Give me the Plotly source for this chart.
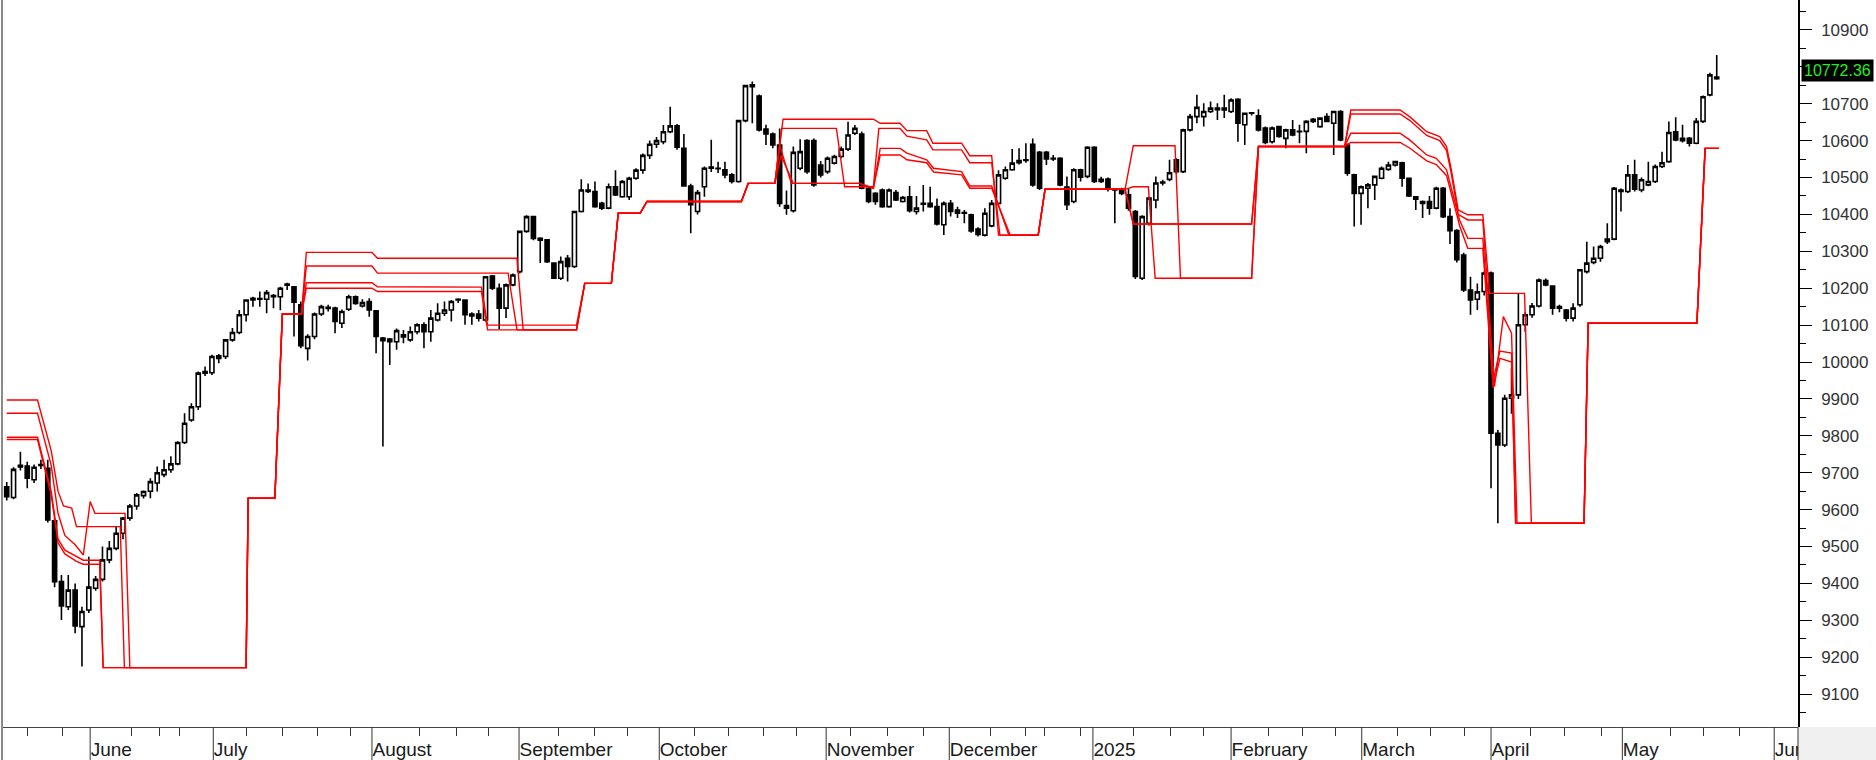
import plotly.graph_objects as go

# ---------------- data ----------------
open_ = [
    9662, 9633, 9716, 9718, 9681, 9720, 9712, 9570, 9405, 9337,
    9382, 9283, 9328, 9387, 9411, 9464, 9495, 9536, 9577, 9610,
    9638, 9650, 9672, 9695, 9708, 9724, 9782, 9843, 9879, 9970,
    9971, 10010, 10015, 10060, 10080, 10128, 10168, 10172, 10170, 10180,
    10177, 10208, 10204, 10155, 10037, 10069, 10130, 10148, 10146, 10105,
    10143, 10177, 10152, 10164, 10139, 10058, 10062, 10055, 10068, 10060,
    10082, 10101, 10082, 10114, 10132, 10141, 10168, 10168, 10125, 10130,
    10114, 10233, 10200, 10146, 10209, 10245, 10354, 10394, 10335, 10331,
    10268, 10227, 10281, 10259, 10408, 10466, 10462, 10430, 10417, 10475,
    10448, 10448, 10498, 10520, 10560, 10590, 10597, 10624, 10640, 10579,
    10477, 10408, 10475, 10525, 10525, 10521, 10507, 10489, 10654, 10746,
    10721, 10631, 10618, 10588, 10417, 10410, 10525, 10600, 10600, 10534,
    10516, 10539, 10557, 10577, 10620, 10618, 10471, 10457, 10466, 10421,
    10459, 10435, 10448, 10408, 10428, 10430, 10421, 10372, 10430, 10412,
    10403, 10399, 10360, 10344, 10369, 10430, 10498, 10521, 10540, 10546,
    10590, 10568, 10568, 10550, 10552, 10474, 10435, 10521, 10503, 10582,
    10495, 10496, 10468, 10468, 10453, 10408, 10227, 10376, 10439, 10485,
    10495, 10548, 10516, 10629, 10665, 10665, 10679, 10688, 10683, 10679,
    10712, 10643, 10674, 10667, 10634, 10597, 10638, 10606, 10629, 10624,
    10625, 10652, 10638, 10665, 10647, 10679, 10588, 10507, 10457, 10471,
    10480, 10498, 10522, 10534, 10540, 10498, 10448, 10435, 10435, 10417,
    10471, 10394, 10356, 10290, 10195, 10170, 10191, 10241, 9807, 9775,
    9902, 9911, 10101, 10128, 10152, 10221, 10206, 10150, 10141, 10119,
    10155, 10245, 10270, 10281, 10326, 10333, 10462, 10462, 10507, 10466,
    10480, 10489, 10530, 10543, 10624, 10600, 10606, 10593, 10652, 10724,
    10768,
]
high = [
    9675, 9715, 9757, 9730, 9722, 9735, 9735, 9575, 9423, 9423,
    9400, 9337, 9472, 9420, 9500, 9515, 9555, 9580, 9615, 9645,
    9652, 9685, 9717, 9735, 9745, 9785, 9861, 9888, 9974, 9988,
    10020, 10022, 10062, 10092, 10141, 10170, 10177, 10191, 10195, 10184,
    10204, 10215, 10206, 10164, 10075, 10134, 10155, 10155, 10150, 10142,
    10182, 10180, 10170, 10173, 10141, 10068, 10065, 10091, 10087, 10096,
    10105, 10108, 10141, 10159, 10164, 10168, 10173, 10170, 10135, 10141,
    10233, 10236, 10213, 10213, 10240, 10356, 10398, 10396, 10338, 10333,
    10270, 10286, 10290, 10410, 10495, 10484, 10489, 10434, 10484, 10520,
    10493, 10502, 10525, 10565, 10600, 10610, 10642, 10692, 10645, 10618,
    10483, 10466, 10530, 10602, 10543, 10543, 10512, 10656, 10751, 10760,
    10725, 10643, 10622, 10633, 10465, 10584, 10604, 10604, 10606, 10545,
    10557, 10562, 10584, 10651, 10642, 10625, 10475, 10460, 10470, 10470,
    10466, 10450, 10477, 10450, 10480, 10475, 10443, 10435, 10439, 10421,
    10412, 10402, 10365, 10417, 10439, 10520, 10530, 10577, 10579, 10593,
    10606, 10572, 10572, 10561, 10555, 10503, 10525, 10524, 10585, 10585,
    10502, 10500, 10471, 10472, 10471, 10412, 10398, 10448, 10503, 10494,
    10548, 10552, 10632, 10672, 10724, 10701, 10706, 10701, 10724, 10715,
    10715, 10676, 10677, 10685, 10638, 10638, 10640, 10632, 10656, 10643,
    10655, 10661, 10663, 10674, 10680, 10682, 10592, 10510, 10478, 10485,
    10505, 10530, 10543, 10545, 10543, 10500, 10450, 10438, 10450, 10475,
    10474, 10417, 10360, 10296, 10231, 10213, 10245, 10245, 9816, 9911,
    9983, 10186, 10135, 10160, 10226, 10226, 10206, 10155, 10144, 10159,
    10252, 10326, 10313, 10318, 10376, 10474, 10470, 10534, 10548, 10500,
    10543, 10535, 10570, 10652, 10663, 10643, 10610, 10661, 10722, 10784,
    10832,
]
low = [
    9625, 9628, 9706, 9658, 9672, 9710, 9565, 9390, 9301, 9328,
    9265, 9175, 9320, 9380, 9405, 9455, 9490, 9520, 9570, 9600,
    9630, 9631, 9649, 9688, 9700, 9720, 9778, 9838, 9870, 9962,
    9965, 9997, 10008, 10055, 10075, 10110, 10150, 10150, 10132, 10146,
    10140, 10195, 10069, 10037, 10004, 10062, 10125, 10137, 10078, 10092,
    10138, 10155, 10148, 10123, 10024, 9771, 9992, 10033, 10051, 10055,
    10075, 10037, 10055, 10110, 10125, 10110, 10160, 10101, 10101, 10110,
    10110, 10195, 10089, 10119, 10205, 10240, 10350, 10330, 10268, 10268,
    10225, 10222, 10218, 10255, 10405, 10458, 10418, 10412, 10414, 10450,
    10445, 10439, 10494, 10510, 10550, 10580, 10590, 10620, 10575, 10475,
    10349, 10400, 10448, 10515, 10512, 10498, 10484, 10486, 10650, 10647,
    10625, 10588, 10579, 10421, 10399, 10405, 10520, 10510, 10475, 10500,
    10510, 10535, 10552, 10572, 10615, 10468, 10430, 10426, 10418, 10418,
    10436, 10432, 10405, 10400, 10408, 10418, 10370, 10344, 10394, 10390,
    10376, 10350, 10340, 10340, 10365, 10425, 10494, 10518, 10535, 10540,
    10475, 10466, 10534, 10545, 10476, 10412, 10430, 10489, 10498, 10485,
    10485, 10462, 10376, 10452, 10410, 10225, 10222, 10370, 10417, 10478,
    10490, 10510, 10512, 10625, 10647, 10638, 10675, 10656, 10661, 10675,
    10597, 10588, 10668, 10625, 10590, 10592, 10608, 10579, 10612, 10593,
    10566, 10648, 10635, 10650, 10561, 10598, 10505, 10367, 10372, 10417,
    10439, 10495, 10518, 10530, 10475, 10447, 10412, 10390, 10399, 10414,
    10390, 10320, 10270, 10190, 10128, 10141, 10180, 9658, 9563, 9770,
    9860, 9900, 10082, 10120, 10148, 10205, 10128, 10135, 10110, 10110,
    10150, 10240, 10265, 10272, 10320, 10330, 10408, 10458, 10462, 10460,
    10476, 10485, 10526, 10540, 10598, 10595, 10584, 10590, 10648, 10720,
    10765,
]
close = [
    9635, 9709, 9720, 9685, 9715, 9722, 9572, 9405, 9339, 9382,
    9285, 9324, 9390, 9411, 9464, 9495, 9536, 9577, 9610, 9640,
    9649, 9676, 9700, 9708, 9724, 9782, 9834, 9879, 9970, 9974,
    10015, 10017, 10060, 10080, 10128, 10168, 10173, 10170, 10188, 10177,
    10200, 10211, 10162, 10044, 10069, 10130, 10150, 10145, 10110, 10137,
    10177, 10159, 10161, 10141, 10069, 10065, 10055, 10085, 10074, 10082,
    10101, 10082, 10119, 10132, 10141, 10164, 10170, 10128, 10130, 10119,
    10231, 10200, 10146, 10209, 10236, 10354, 10394, 10335, 10330, 10272,
    10227, 10272, 10259, 10408, 10466, 10462, 10421, 10417, 10475, 10453,
    10489, 10498, 10520, 10560, 10590, 10600, 10624, 10640, 10582, 10477,
    10426, 10459, 10525, 10528, 10524, 10507, 10489, 10654, 10749, 10751,
    10629, 10618, 10588, 10430, 10424, 10568, 10570, 10516, 10480, 10507,
    10552, 10557, 10577, 10615, 10633, 10471, 10435, 10435, 10421, 10466,
    10439, 10446, 10410, 10417, 10430, 10421, 10374, 10430, 10408, 10403,
    10405, 10355, 10346, 10403, 10430, 10507, 10521, 10539, 10546, 10548,
    10480, 10471, 10550, 10552, 10480, 10426, 10521, 10501, 10582, 10489,
    10489, 10468, 10466, 10457, 10417, 10232, 10394, 10444, 10485, 10488,
    10513, 10516, 10629, 10665, 10690, 10679, 10688, 10684, 10688, 10710,
    10647, 10674, 10675, 10629, 10595, 10634, 10611, 10629, 10615, 10625,
    10652, 10658, 10661, 10652, 10679, 10602, 10512, 10457, 10475, 10480,
    10503, 10525, 10534, 10543, 10498, 10450, 10441, 10430, 10417, 10471,
    10394, 10356, 10277, 10195, 10168, 10190, 10241, 9807, 9775, 9902,
    9911, 10101, 10128, 10152, 10222, 10209, 10146, 10146, 10119, 10146,
    10250, 10268, 10281, 10313, 10333, 10471, 10466, 10507, 10468, 10494,
    10489, 10530, 10540, 10622, 10602, 10606, 10593, 10652, 10719, 10778,
    10772.36,
]
bar_index = list(range(len(close)))

# month boundaries (in bar units) and their labels
month_pos = [12.2, 30.2, 53.4, 74.9, 95.4, 119.8, 137.8, 158.8, 179.0, 198.1, 217.0, 236.2, 258.4]
month_names = ["June", "July", "August", "September", "October", "November", "December",
               "2025", "February", "March", "April", "May", "June"]
# weekly minor ticks (bar units)
week_pos = [3.0, 8.2, 18.2, 22.3, 25.2, 35.0, 40.3, 45.5, 50.3, 60.4, 65.7, 70.5, 80.6, 85.9,
            90.7, 100.6, 105.5, 110.7, 115.5, 123.4, 128.7, 134.0, 143.8, 149.0, 151.7, 157.0,
            164.8, 170.1, 174.9, 184.5, 189.4, 194.2, 203.4, 208.2, 213.1, 222.7, 227.8, 233.1,
            243.2, 248.0, 253.3]
price_ticks = [9100, 9200, 9300, 9400, 9500, 9600, 9700, 9800, 9900, 10000,
               10100, 10200, 10300, 10400, 10500, 10600, 10700, 10800, 10900]
# the 10800 label is hidden behind the last-price box in the reference
price_labels = ["9100", "9200", "9300", "9400", "9500", "9600", "9700", "9800", "9900", "10000",
                "10100", "10200", "10300", "10400", "10500", "10600", "10700", "", "10900"]

# red trailing-stop lines: vertices (bar, price)
stop_1 = [(0, 9897), (4.5, 9897), (6.5, 9760), (7.5, 9650), (8.3, 9610), (9.5, 9604), (10.2, 9554),
          (16.6, 9554), (17.2, 9172), (35.0, 9172), (35.3, 9631), (39.2, 9631), (40.3, 10130),
          (43.1, 10130), (43.8, 10297), (53.4, 10297), (54.2, 10281), (74.6, 10281), (75.5, 10087),
          (83.3, 10087), (84.5, 10213), (88.4, 10213), (89.4, 10403), (92.6, 10403), (93.6, 10435),
          (107.4, 10435), (108.4, 10484), (112.3, 10484), (113.5, 10658), (126.7, 10658),
          (127.7, 10647), (130.6, 10647), (131.6, 10627), (134.5, 10627), (135.4, 10593),
          (139.6, 10593), (140.8, 10559), (144.0, 10559), (145.0, 10344), (150.8, 10344),
          (151.8, 10468), (163.5, 10468), (164.7, 10586), (170.8, 10586), (171.6, 10227),
          (182.0, 10227), (183.0, 10584), (195.6, 10584), (196.5, 10683), (203.7, 10683),
          (205.1, 10665), (207.6, 10624), (209.5, 10611), (210.5, 10584), (211.2, 10521),
          (212.2, 10412), (213.6, 10399), (215.8, 10399), (216.8, 10186), (221.9, 10186),
          (222.9, 9563), (230.6, 9563), (231.2, 10105), (247.1, 10105), (248.3, 10579), (250.3, 10579)]
stop_2 = [(0, 9861), (4.5, 9861), (6.5, 9720), (7.5, 9590), (8.5, 9530), (10.0, 9505), (11.2, 9477),
          (12.2, 9622), (12.9, 9590), (17.3, 9590), (18.0, 9172), (35.0, 9172), (35.3, 9631),
          (39.2, 9631), (40.3, 10130), (43.1, 10130), (43.8, 10260), (53.4, 10260), (54.2, 10241),
          (73.3, 10241), (74.6, 10087), (83.3, 10087), (84.5, 10213), (88.4, 10213), (89.4, 10403),
          (92.6, 10403), (93.6, 10435), (107.4, 10435), (108.4, 10484), (112.3, 10484),
          (113.3, 10633), (121.3, 10633), (122.5, 10475), (126.7, 10475), (127.5, 10633),
          (130.6, 10633), (131.6, 10612), (134.5, 10602), (135.4, 10575), (139.6, 10575),
          (140.8, 10540), (144.0, 10540), (145.2, 10344), (150.8, 10344), (151.8, 10468),
          (163.5, 10468), (164.7, 10475), (166.9, 10475), (167.9, 10227), (182.0, 10227),
          (183.0, 10584), (195.6, 10584), (196.5, 10672), (203.7, 10672), (205.1, 10655),
          (207.6, 10614), (209.5, 10600), (210.5, 10573), (211.2, 10510), (212.2, 10400),
          (213.6, 10385), (215.8, 10385), (217.5, 9933), (218.8, 10123), (220.0, 10078),
          (220.8, 9563), (230.6, 9563), (231.2, 10105), (247.1, 10105), (248.3, 10579), (250.3, 10579)]
stop_3 = [(0, 9796), (4.5, 9796), (6.5, 9650), (7.5, 9520), (8.5, 9490), (10.2, 9473), (11.2, 9463),
          (13.6, 9463), (14.1, 9172), (35.0, 9172), (35.3, 9631), (39.2, 9631), (40.3, 10130),
          (43.1, 10130), (43.8, 10215), (53.4, 10215), (54.2, 10204), (69.4, 10203), (70.3, 10100),
          (83.3, 10100), (84.5, 10213), (88.4, 10213), (89.4, 10403), (92.6, 10403), (93.6, 10435),
          (107.4, 10435), (108.4, 10484), (112.3, 10484), (113.0, 10588), (114.7, 10484),
          (124.7, 10484), (126.7, 10471), (127.7, 10579), (130.6, 10579), (131.6, 10566),
          (134.5, 10548), (135.5, 10525), (139.6, 10516), (140.8, 10477), (144.0, 10477),
          (146.5, 10344), (150.8, 10344), (151.8, 10468), (163.5, 10468), (164.7, 10374),
          (182.0, 10374), (183.0, 10584), (195.6, 10584), (196.5, 10620), (203.7, 10620),
          (205.1, 10602), (207.6, 10561), (209.0, 10552), (210.5, 10521), (211.5, 10448),
          (212.4, 10385), (213.6, 10335), (215.8, 10335), (217.3, 9950), (218.3, 10030),
          (220.0, 10024), (220.6, 9563), (230.6, 9563), (231.2, 10105), (247.1, 10105),
          (248.3, 10579), (250.3, 10579)]
stop_4 = [(0, 9790), (4.5, 9790), (6.5, 9640), (7.5, 9510), (8.5, 9480), (10.2, 9460), (11.2, 9452),
          (13.6, 9452), (14.1, 9172), (35.0, 9172), (35.3, 9631), (39.2, 9631), (40.3, 10130),
          (43.1, 10130), (43.8, 10200), (53.4, 10200), (54.2, 10191), (69.4, 10191), (70.3, 10087),
          (83.3, 10087), (84.5, 10213), (88.4, 10213), (89.4, 10403), (92.6, 10403), (93.6, 10435),
          (107.4, 10435), (108.4, 10484), (112.3, 10484), (113.2, 10560), (115.0, 10484),
          (124.7, 10484), (126.7, 10471), (127.7, 10561), (130.6, 10561), (131.6, 10548),
          (134.5, 10540), (135.5, 10515), (139.6, 10507), (140.8, 10471), (144.0, 10471),
          (146.7, 10344), (150.8, 10344), (151.8, 10468), (163.5, 10468), (164.7, 10374),
          (182.0, 10374), (183.0, 10584), (195.6, 10584), (196.5, 10595), (203.7, 10595),
          (205.1, 10580), (207.6, 10545), (209.0, 10535), (210.5, 10505), (211.5, 10435),
          (212.4, 10370), (213.6, 10308), (215.8, 10308), (217.3, 9930), (218.3, 10010),
          (220.0, 10000), (220.6, 9563), (230.6, 9563), (231.2, 10105), (247.1, 10105),
          (248.3, 10579), (250.3, 10579)]

# ---------------- figure ----------------
W, H = 1876, 760
ML, MR, MT, MB = 2, 78, 0, 33
PW, PH = W - ML - MR, H - MT - MB
BAND = MB / PH
FONT = "Liberation Sans, Arial, sans-serif"

fig = go.Figure()
fig.add_trace(go.Candlestick(
    x=bar_index, open=open_, high=high, low=low, close=close,
    increasing=dict(line=dict(color="black", width=1.6), fillcolor="white"),
    decreasing=dict(line=dict(color="black", width=1.6), fillcolor="black"),
    whiskerwidth=0, hoverinfo="skip", showlegend=False,
))
for pts in (stop_1, stop_2, stop_3, stop_4):
    xs = [p[0] for p in pts]
    ys = [p[1] for p in pts]
    fig.add_trace(go.Scatter(x=xs, y=ys, mode="lines",
                             line=dict(color="#ff0000", width=1.4),
                             hoverinfo="skip", showlegend=False))

shapes = []
for m in month_pos:
    shapes.append(dict(type="line", xref="x", yref="paper", x0=m, x1=m, y0=0, y1=-BAND,
                       line=dict(color="#333333", width=1)))
shapes.append(dict(type="line", xref="paper", yref="paper", x0=0, x1=0, y0=-BAND, y1=1,
                   line=dict(color="#8a8a8a", width=2)))
shapes.append(dict(type="rect", xref="paper", yref="paper", x0=1, x1=1 + MR / PW,
                   y0=-BAND, y1=0, fillcolor="#f0f0f0", line=dict(width=0), layer="above"))
shapes.append(dict(type="line", xref="paper", yref="paper", x0=1, x1=1, y0=-BAND, y1=0,
                   line=dict(color="#333333", width=1), layer="above"))

fig.update_layout(
    width=W, height=H,
    margin=dict(l=ML, r=MR, t=MT, b=MB, autoexpand=False),
    paper_bgcolor="white", plot_bgcolor="white",
    boxgap=0.15,
    showlegend=False,
    shapes=shapes,
    xaxis=dict(
        range=[-0.69, 261.88], rangeslider=dict(visible=False), automargin=False,
        showgrid=False, zeroline=False,
        showline=True, linecolor="#444444", linewidth=1,
        tickmode="array", tickvals=month_pos, ticktext=month_names,
        ticks="", ticklabelposition="outside right", ticklabelstandoff=5,
        tickfont=dict(family=FONT, size=19, color="#1a1a1a"),
        minor=dict(tickmode="array", tickvals=week_pos, ticks="outside", ticklen=8,
                   tickcolor="#333333", tickwidth=1),
    ),
    yaxis=dict(
        side="right", range=[9011, 10981], automargin=False,
        showgrid=False, zeroline=False,
        showline=True, linecolor="black", linewidth=1.5,
        tickmode="array", tickvals=price_ticks, ticktext=price_labels,
        ticks="outside", ticklen=12, tickcolor="black", tickwidth=1,
        ticklabelstandoff=6,
        tickfont=dict(family=FONT, size=17, color="#333333"),
        minor=dict(dtick=50, tick0=9050, ticks="outside", ticklen=6, tickcolor="black", tickwidth=1),
    ),
    annotations=[dict(
        xref="paper", yref="y", x=1, y=close[-1], xanchor="left", yanchor="middle",
        xshift=3, yshift=7, showarrow=False,
        text=f"{close[-1]:.2f}",
        font=dict(family=FONT, size=16, color="#22ee22"),
        bgcolor="black", borderpad=2,
    )],
)

fig.write_html(
    "out.html",
    config={"displayModeBar": False},
    post_script="document.body.style.margin='0';document.body.style.overflow='hidden';",
)
